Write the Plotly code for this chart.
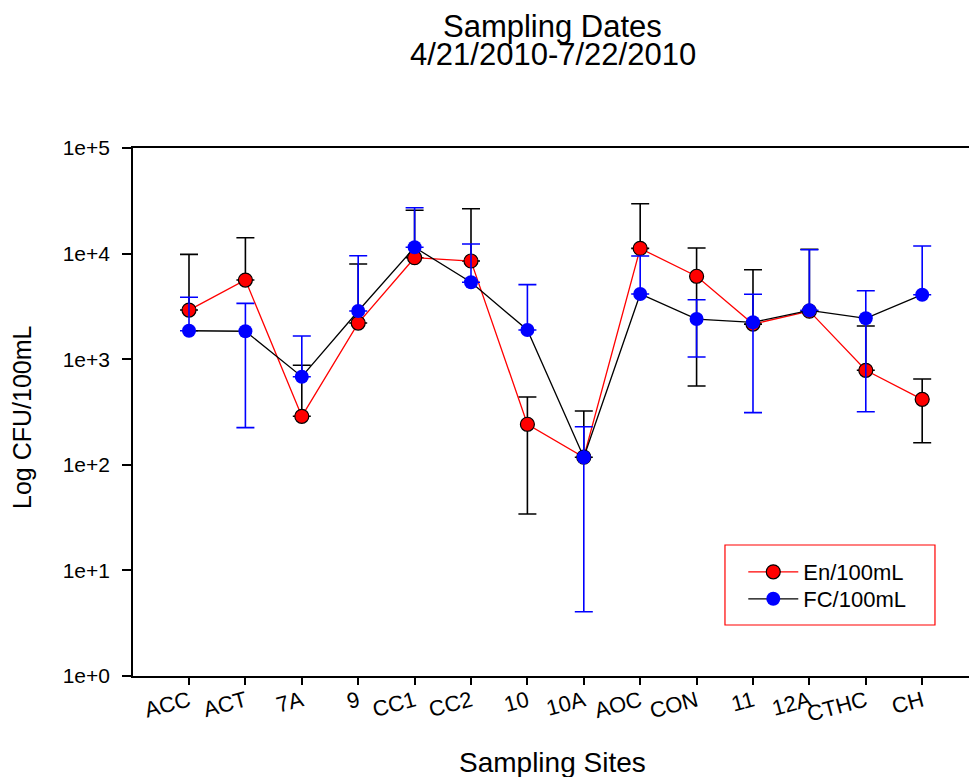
import plotly.graph_objects as go

sites = ["ACC", "ACT", "7A", "9", "CC1", "CC2", "10", "10A", "AOC", "CON", "11", "12A", "CTHC", "CH"]

# means and the ends of the error bars (None = lower end not drawn on the log axis)
en_mean = [2920, 5620, 288, 2200, 9140, 8510, 242, 118, 11200, 6100, 2150, 2850, 785, 417]
en_upper = [9840, 14150, 875, 7970, 25700, 26600, 439, 323, 29700, 11300, 7040, 11000, 2063, 649]
en_lower = [None, None, None, None, None, None, 34.2, None, None, 557, None, None, None, 162]

fc_mean = [1860, 1840, 683, 2860, 11470, 5350, 1890, 118, 4145, 2400, 2235, 2900, 2440, 4080]
fc_upper = [3855, 3381, 1659, 9550, 27200, 12330, 5080, 229.5, 9490, 3661, 4115, 10890, 4454, 11800]
fc_lower = [None, 225, None, None, None, None, None, 4.06, None, 1049, 312, None, 318, None]

y_tickvals = [1, 10, 100, 1000, 10000, 100000]
y_ticktext = ["1e+0", "1e+1", "1e+2", "1e+3", "1e+4", "1e+5"]

FONT = "Liberation Sans, Arial, sans-serif"


def plus(mean, up):
    return [u - m for m, u in zip(mean, up)]


def minus(mean, lo):
    return [0 if l is None else m - l for m, l in zip(mean, lo)]


x_idx = list(range(len(sites)))

fig = go.Figure()
fig.add_trace(go.Scatter(
    x=x_idx, y=en_mean, mode="lines+markers", name="En/100mL", legend="legend",
    line=dict(color="#ff0000", width=1.3),
    marker=dict(color="#ff0000", size=14, line=dict(color="black", width=1.2)),
    error_y=dict(type="data", symmetric=False, array=plus(en_mean, en_upper),
                 arrayminus=minus(en_mean, en_lower),
                 color="black", thickness=1.6, width=9),
))
fig.add_trace(go.Scatter(
    x=x_idx, y=fc_mean, mode="lines+markers", name="FC/100mL", legend="legend2",
    line=dict(color="black", width=1.3),
    marker=dict(color="#0000ff", size=14, line=dict(color="#0000ff", width=0)),
    error_y=dict(type="data", symmetric=False, array=plus(fc_mean, fc_upper),
                 arrayminus=minus(fc_mean, fc_lower),
                 color="#0000ff", thickness=1.6, width=9),
))

legend_style = dict(xanchor="left", yanchor="top", borderwidth=0, bgcolor="rgba(0,0,0,0)",
                    font=dict(family=FONT, size=22, color="black"), itemwidth=50)

fig.update_layout(
    width=969, height=777,
    margin=dict(l=133, r=0, t=148, b=101),
    paper_bgcolor="white", plot_bgcolor="white",
    font=dict(family=FONT, color="black"),
    showlegend=True,
    legend=dict(x=0.7300, y=0.2367, **legend_style),
    legend2=dict(x=0.7300, y=0.1856, **legend_style),
    shapes=[dict(type="rect", xref="paper", yref="paper",
                 x0=0.7081, x1=0.9593, y0=0.0966, y1=0.2481,
                 line=dict(color="#ff0000", width=1.2), fillcolor="rgba(0,0,0,0)", layer="above")],
    annotations=[
        dict(text="Sampling Dates", x=0.502, y=1.2300, xref="paper", yref="paper",
             yanchor="middle", showarrow=False,
             font=dict(family=FONT, size=31, color="black")),
        dict(text="4/21/2010-7/22/2010", x=0.502, y=1.1770, xref="paper", yref="paper",
             yanchor="middle", showarrow=False,
             font=dict(family=FONT, size=31, color="black")),
        dict(text="Sampling Sites", x=0.502, y=-0.1630, xref="paper", yref="paper",
             yanchor="middle", showarrow=False,
             font=dict(family=FONT, size=28, color="black")),
        dict(text="Log CFU/100mL", x=-0.1328, y=0.4905, xref="paper", yref="paper",
             xanchor="center", yanchor="middle", textangle=-90, showarrow=False,
             font=dict(family=FONT, size=25, color="black")),
    ],
    xaxis=dict(
        range=[-0.993, 13.83], tickmode="array", tickvals=x_idx, ticktext=sites,
        tickangle=-15, ticks="outside", ticklen=7, tickwidth=1.5, tickcolor="black",
        ticklabelstandoff=-5,
        showline=True, linecolor="black", linewidth=1.6, mirror=True,
        showgrid=False, zeroline=False,
        tickfont=dict(family=FONT, size=22, color="black"),
    ),
    yaxis=dict(
        type="log", range=[0, 5], tickmode="array", tickvals=y_tickvals, ticktext=y_ticktext,
        ticks="outside", ticklen=9, tickwidth=1.5, tickcolor="black",
        ticklabelstandoff=8,
        showline=True, linecolor="black", linewidth=1.6, mirror=False,
        showgrid=False, zeroline=False,
        tickfont=dict(family=FONT, size=21, color="black"),
    ),
)

fig.write_html("out.html")
